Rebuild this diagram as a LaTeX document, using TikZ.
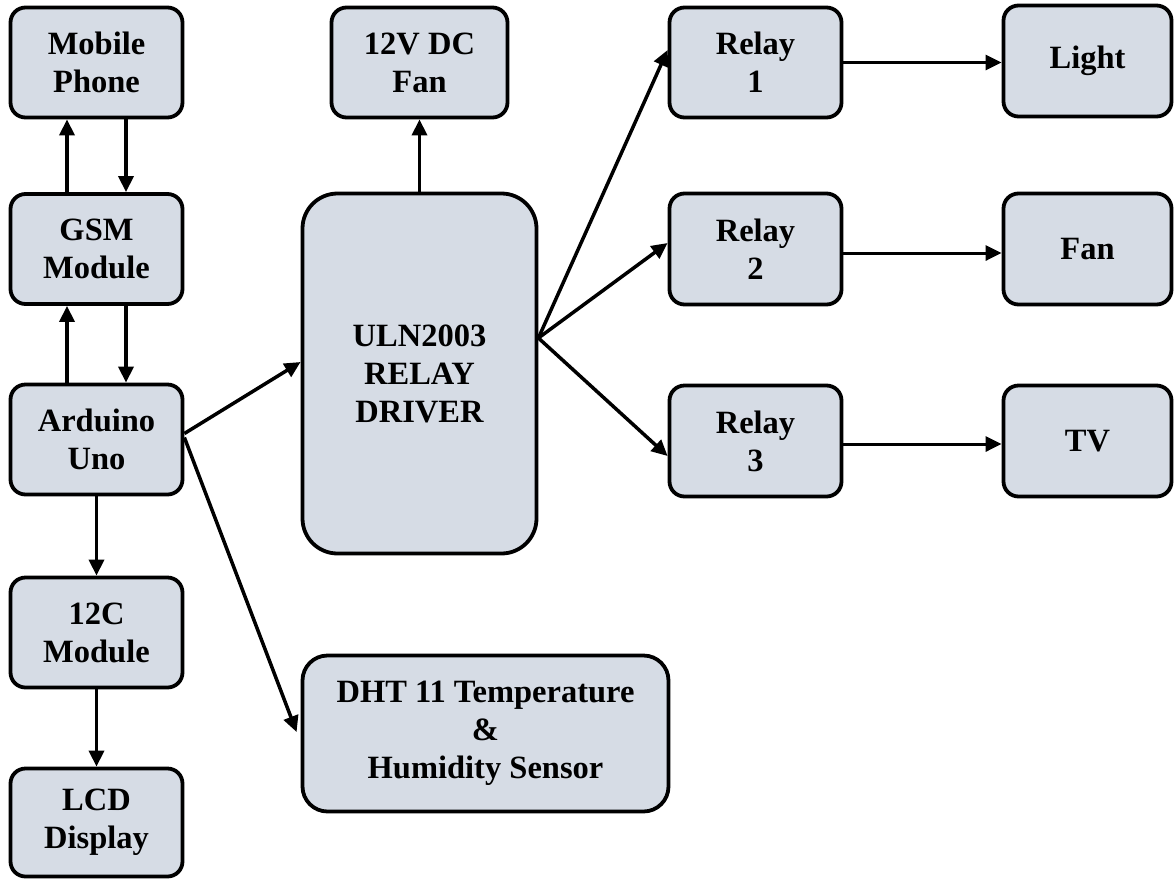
\documentclass[tikz,border=0pt]{standalone}
\usepackage{fontspec}
\setmainfont{Liberation Serif}
\usetikzlibrary{arrows.meta}
\definecolor{boxfill}{HTML}{D6DCE5}
\tikzset{
  blk/.style={draw=black, fill=boxfill, line width=3.8pt, rounded corners=15pt,
    inner sep=0pt, align=center, font=\fontsize{32.5}{38}\selectfont\bfseries},
  arr/.style={line width=3.5pt, -{Triangle[length=16pt,width=15pt]}},
  thinarr/.style={line width=3pt, -{Triangle[length=16pt,width=15pt]}}
}
\begin{document}
\begin{tikzpicture}[x=1pt,y=-1pt]
\useasboundingbox (0,0) rectangle (1175,879);
% left column
\node[blk, minimum width=172pt, minimum height=110pt] (mobile) at (96.5,62.5) {Mobile\\Phone};
\node[blk, minimum width=172pt, minimum height=110pt] (gsm) at (96.5,249) {GSM\\Module};
\node[blk, minimum width=172pt, minimum height=110pt] (ard) at (96.5,439.5) {Arduino\\Uno};
\node[blk, minimum width=172pt, minimum height=110pt] (i2c) at (96.5,632.5) {12C\\Module};
\node[blk, minimum width=172pt, minimum height=108pt] (lcd) at (96.5,822.5) {LCD\\Display};
% middle
\node[blk, minimum width=176pt, minimum height=110pt] (fan12) at (419.5,62.5) {12V DC\\Fan};
\node[blk, rounded corners=35pt, minimum width=234pt, minimum height=360pt] (uln) at (419.5,373.5) {ULN2003\\RELAY\\DRIVER};
\node[blk, rounded corners=25pt, minimum width=366pt, minimum height=156pt] (dht) at (485.5,733.5) {DHT 11 Temperature\\\&\\Humidity Sensor};
% relays
\node[blk, minimum width=172pt, minimum height=110pt] (r1) at (755.5,62.5) {Relay\\1};
\node[blk, minimum width=172pt, minimum height=111pt] (r2) at (755.5,249) {Relay\\2};
\node[blk, minimum width=172pt, minimum height=111pt] (r3) at (755.5,441) {Relay\\3};
% devices
\node[blk, minimum width=168pt, minimum height=111pt] (light) at (1087.5,61) {Light};
\node[blk, minimum width=168pt, minimum height=111pt] (fan) at (1087.5,249) {Fan};
\node[blk, minimum width=168pt, minimum height=111pt] (tv) at (1087.5,441) {TV};
% connectors left column
\draw[arr] ([xshift=-29.5pt]gsm.north) -- ([xshift=-29.5pt]mobile.south);
\draw[arr] ([xshift=29.5pt]mobile.south) -- ([xshift=29.5pt]gsm.north);
\draw[arr] ([xshift=-29.5pt]ard.north) -- ([xshift=-29.5pt]gsm.south);
\draw[arr] ([xshift=29.5pt]gsm.south) -- ([xshift=29.5pt]ard.north);
\draw[arr] (ard.south) -- (i2c.north);
\draw[arr] (i2c.south) -- (lcd.north);
% arduino out
\draw[arr] ([yshift=6pt]ard.east) -- ([yshift=11.5pt]uln.west);
\draw[arr] ([yshift=2pt]ard.east) -- ([xshift=-4pt,yshift=1.5pt]dht.west);
% uln
\draw[arr] (uln.north) -- (fan12.south);
\draw[arr] ([yshift=35.5pt]uln.east) -- ([yshift=12.5pt]r1.west);
\draw[arr] ([yshift=35.5pt]uln.east) -- ([yshift=6pt]r2.west);
\draw[arr] ([yshift=35.5pt]uln.east) -- ([yshift=-15pt]r3.west);
% relays to devices
\draw[thinarr] (r1.east) -- (r1.east -| light.west);
\draw[thinarr] ([yshift=-4pt]r2.east) -- ([yshift=-4pt]r2.east -| fan.west);
\draw[thinarr] ([yshift=-3pt]r3.east) -- ([yshift=-3pt]r3.east -| tv.west);
\end{tikzpicture}
\end{document}
